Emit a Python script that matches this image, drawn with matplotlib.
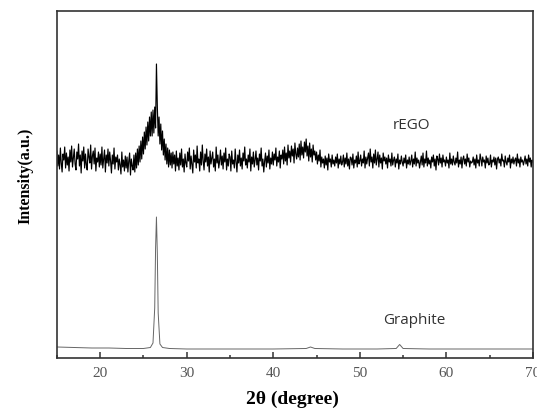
import numpy as np
import matplotlib
matplotlib.use("Agg")
import matplotlib.pyplot as plt
from matplotlib.ticker import MultipleLocator

# rEGO pattern, every 0.1 degree from 15.0 to 70.0
rego_start, rego_step = 15.0, 0.1
rego_counts = [
    207, 192, 203, 189, 210, 195, 186, 204, 198, 211,   # 15
    190, 205, 193, 201, 187, 208, 196, 212, 191, 200,
    209, 194, 188, 206, 199, 214, 192, 203, 185, 207,
    197, 211, 190, 204, 193, 188, 209, 201, 195, 213,
    189, 202, 207, 194, 210, 187, 200, 196, 206, 191,
    204, 193, 211, 190, 199, 208, 186, 203, 195, 209,   # 20
    192, 206, 197, 185, 203, 194, 210, 189, 201, 196,
    203, 188, 199, 193, 184, 206, 191, 198, 187, 202,
    190, 201, 186, 197, 205, 183, 199, 192, 188, 203,
    186, 205, 190, 209, 193, 212, 196, 217, 199, 221,
    204, 226, 209, 231, 213, 236, 217, 241, 222, 246,   # 25
    222, 248, 225, 251, 230, 294, 252, 222, 241, 214,
    234, 208, 227, 203, 219, 198, 214, 194, 210, 191,
    208, 193, 205, 190, 206, 194, 203, 187, 207, 192,
    200, 188, 205, 193, 209, 191, 199, 186, 204, 195,
    191, 206, 197, 210, 189, 202, 194, 185, 208, 196,   # 30
    203, 190, 212, 195, 199, 187, 206, 193, 213, 197,
    188, 204, 196, 209, 192, 201, 186, 207, 194, 200,
    206, 191, 199, 187, 211, 195, 203, 190, 197, 208,
    193, 202, 189, 205, 196, 210, 188, 199, 192, 204,
    201, 187, 207, 194, 198, 190, 209, 196, 186, 203,   # 35
    195, 208, 192, 200, 189, 205, 197, 211, 193, 199,
    190, 203, 196, 209, 187, 201, 194, 206, 191, 198,
    207, 193, 200, 188, 204, 197, 210, 192, 199, 186,
    197, 205, 191, 202, 195, 208, 189, 200, 194, 206,
    193, 204, 198, 210, 192, 201, 196, 207, 190, 203,   # 40
    199, 208, 194, 211, 197, 205, 193, 213, 200, 207,
    196, 212, 202, 209, 195, 215, 204, 199, 210, 201,
    214, 198, 217, 203, 211, 200, 216, 206, 219, 202,
    212, 197, 215, 201, 209, 196, 213, 203, 207, 198,
    206, 194, 203, 197, 208, 191, 201, 195, 199, 190,   # 45
    202, 193, 200, 188, 204, 196, 199, 191, 203, 194,
    198, 192, 201, 195, 204, 190, 199, 194, 202, 193,
    196, 203, 191, 200, 194, 205, 192, 199, 189, 201,
    200, 193, 204, 190, 198, 195, 202, 191, 206, 194,
    197, 203, 192, 199, 195, 207, 190, 201, 194, 200,   # 50
    205, 192, 209, 196, 201, 190, 204, 195, 208, 193,
    199, 206, 191, 203, 195, 200, 189, 205, 197, 201,
    194, 200, 190, 203, 196, 199, 192, 205, 193, 198,
    201, 191, 199, 195, 204, 189, 198, 194, 202, 196,
    192, 200, 195, 203, 190, 198, 194, 201, 193, 197,   # 55
    203, 191, 199, 194, 206, 192, 200, 195, 198, 190,
    196, 202, 193, 205, 191, 199, 195, 207, 192, 200,
    194, 198, 190, 201, 196, 203, 192, 199, 188, 202,
    199, 193, 204, 195, 200, 191, 203, 196, 198, 192,
    201, 195, 198, 190, 205, 194, 199, 193, 202, 196,   # 60
    193, 200, 195, 206, 191, 198, 194, 201, 190, 199,
    202, 194, 199, 192, 204, 196, 200, 191, 197, 195,
    196, 201, 193, 199, 190, 203, 195, 198, 192, 204,
    199, 192, 201, 196, 198, 190, 202, 195, 200, 193,
    194, 203, 191, 198, 196, 201, 193, 200, 189, 199,   # 65
    201, 195, 199, 192, 204, 197, 198, 191, 202, 196,
    193, 200, 196, 203, 190, 199, 195, 201, 194, 198,
    200, 192, 204, 195, 199, 191, 201, 196, 198, 193,
    197, 202, 194, 199, 192, 203, 196, 200, 191, 198,
    196,                                                # 70
]

# graphite pattern, flat baseline with the (002) peak and two tiny ones
graphite_2theta = [15, 17, 19, 21, 23, 25, 25.8, 26.1, 26.3, 26.4, 26.5, 26.6,
                   26.7, 26.9, 27.2, 28, 30, 33, 36, 40, 43.8, 44.3, 44.8, 48,
                   52, 54.2, 54.6, 55.0, 58, 62, 66, 70]
graphite_counts = [11, 10.5, 10, 10, 9.5, 9.5, 10.5, 15, 50, 110, 141, 105,
                   45, 14, 10.5, 9.5, 9, 9, 9, 9, 9.5, 11, 9.5, 9,
                   9, 9.5, 13.5, 9.5, 9, 9, 9, 9]

xticks = [20, 30, 40, 50, 60, 70]

rego_2theta = rego_start + rego_step * np.arange(len(rego_counts))

fig = plt.figure(figsize=(5.37, 4.10), dpi=100)
ax = fig.add_axes([0.106, 0.1244, 0.8864, 0.8463])

ax.plot(rego_2theta, rego_counts, color='black', lw=0.85)
ax.plot(graphite_2theta, graphite_counts, color='#666666', lw=0.7)

ax.text(56.0, 234, 'rEGO', fontsize=11, family='Open Sans', color='#333333',
        ha='center', va='center')
ax.text(56.3, 38, 'Graphite', fontsize=11, family='Open Sans', color='#333333',
        ha='center', va='center')

ax.set_xlim(15, 70)
ax.set_ylim(0, 347)
ax.set_xticks(xticks)
ax.xaxis.set_minor_locator(MultipleLocator(5))
ax.set_yticks([])
ax.tick_params(axis='x', which='major', direction='in', length=4.5, width=1.1,
               color='#333333', pad=6, labelsize=11, labelcolor='#555555')
ax.tick_params(axis='x', which='minor', direction='in', length=2.2, width=1.1,
               color='#333333')
for lab in ax.get_xticklabels():
    lab.set_family('Liberation Serif')

for sp in ax.spines.values():
    sp.set_linewidth(1.2)
    sp.set_color('#333333')

ax.set_xlabel('2θ (degree)', fontsize=14, fontweight='bold', family='Liberation Serif')
ax.set_ylabel('Intensity(a.u.)', fontsize=11.5, fontweight='bold', family='Liberation Serif')
ax.xaxis.set_label_coords(0.494, -0.092)
ax.yaxis.set_label_coords(-0.05, 0.527)

fig.savefig('out.png', dpi=100)
